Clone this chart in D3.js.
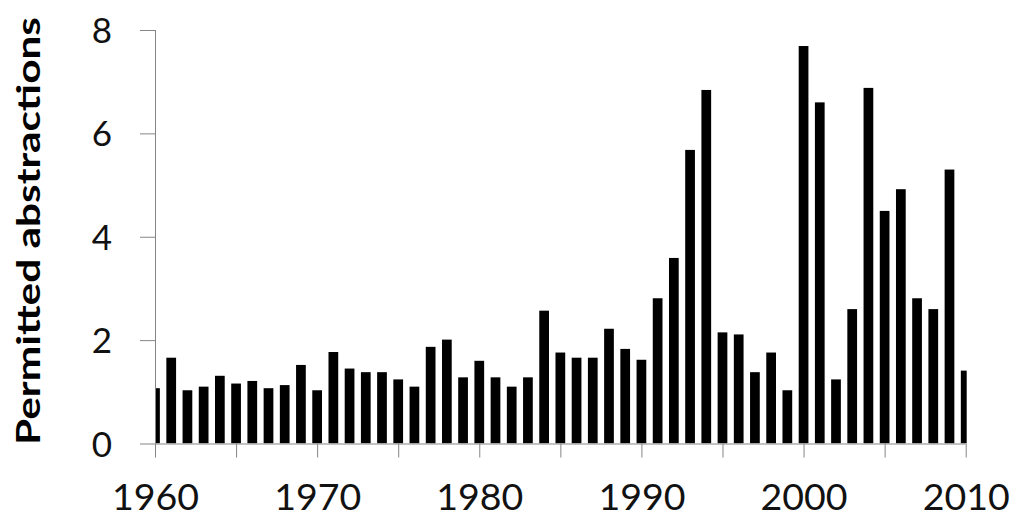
<!DOCTYPE html>
<html>
<head>
<meta charset="utf-8">
<script src="https://cdn.jsdelivr.net/npm/d3@7"></script>
<style>
  html, body { margin: 0; padding: 0; background: #fff; }
  svg { display: block; }
</style>
</head>
<body>
<svg id="chart" width="1024" height="519"></svg>
<script>
const years = d3.range(1960, 2011);
const values = [
  1.07, 1.66, 1.03, 1.10, 1.31, 1.16, 1.21, 1.07, 1.13, 1.52,
  1.03, 1.77, 1.45, 1.38, 1.38, 1.24, 1.10, 1.87, 2.01, 1.28,
  1.60, 1.28, 1.10, 1.28, 2.57, 1.76, 1.66, 1.66, 2.22, 1.83,
  1.62, 2.81, 3.59, 5.68, 6.84, 2.15, 2.11, 1.38, 1.76, 1.03,
  7.69, 6.60, 1.24, 2.60, 6.88, 4.50, 4.92, 2.81, 2.60, 5.30,
  1.41
];
const yTicks = [0, 2, 4, 6, 8];
const xTicks = [1960, 1965, 1970, 1975, 1980, 1985, 1990, 1995, 2000, 2005, 2010];
const xLabels = [1960, 1970, 1980, 1990, 2000, 2010];
const yTitle = "Permitted abstractions";

const svg = d3.select("#chart");
const mLeft = 155, mRight = 965.7, mTop = 30, mBottom = 443.5;

const x = d3.scaleLinear().domain([1960, 2010]).range([mLeft, mRight]);
const y = d3.scaleLinear().domain([0, 8]).range([mBottom, mTop]);
const step = x(1961) - x(1960);
const barW = step * 0.6;

svg.append("defs").append("clipPath").attr("id", "plotclip")
  .append("rect").attr("x", mLeft).attr("y", 0).attr("width", mRight - mLeft + 1).attr("height", mBottom);

svg.append("g").attr("clip-path", "url(#plotclip)")
  .selectAll("rect").data(years).join("rect")
  .attr("x", (d) => x(d) - barW / 2)
  .attr("width", barW)
  .attr("y", (d, i) => y(values[i]))
  .attr("height", (d, i) => y(0) - y(values[i]))
  .attr("fill", "#000");

const axisColor = "#858585";

// y axis
const yAxis = svg.append("g").attr("transform", `translate(${mLeft},0)`)
  .call(d3.axisLeft(y).tickValues(yTicks).tickSize(15).tickPadding(28).tickFormat(d3.format("d")));
yAxis.select(".domain").attr("stroke", axisColor).attr("d", `M0.5,${mTop}V${mBottom}`);
yAxis.selectAll(".tick line").attr("stroke", axisColor);
yAxis.selectAll(".tick text")
  .attr("font-family", "Lato, 'Open Sans', sans-serif")
  .attr("font-size", 35)
  .attr("fill", "#111")
  .attr("dy", "0.36em");

// x axis
const xAxis = svg.append("g").attr("transform", `translate(0,${mBottom})`)
  .call(d3.axisBottom(x).tickValues(xTicks).tickSize(14)
    .tickFormat((d) => xLabels.includes(d) ? String(d) : ""));
xAxis.select(".domain").attr("stroke", axisColor).attr("d", `M${mLeft},0.5H${mRight}`);
xAxis.selectAll(".tick line").attr("stroke", axisColor);
xAxis.selectAll(".tick text")
  .attr("font-family", "Lato, 'Open Sans', sans-serif")
  .attr("font-size", 37.5)
  .attr("fill", "#111")
  .attr("y", 66)
  .attr("dy", 0);

// y title
svg.append("text")
  .attr("transform", `translate(40,231) rotate(-90)`)
  .attr("text-anchor", "middle")
  .attr("font-family", "Lato, 'Open Sans', sans-serif")
  .attr("font-weight", "bold")
  .attr("font-size", 33)
  .attr("textLength", 428)
  .attr("lengthAdjust", "spacingAndGlyphs")
  .attr("fill", "#000")
  .text(yTitle);
</script>
</body>
</html>
